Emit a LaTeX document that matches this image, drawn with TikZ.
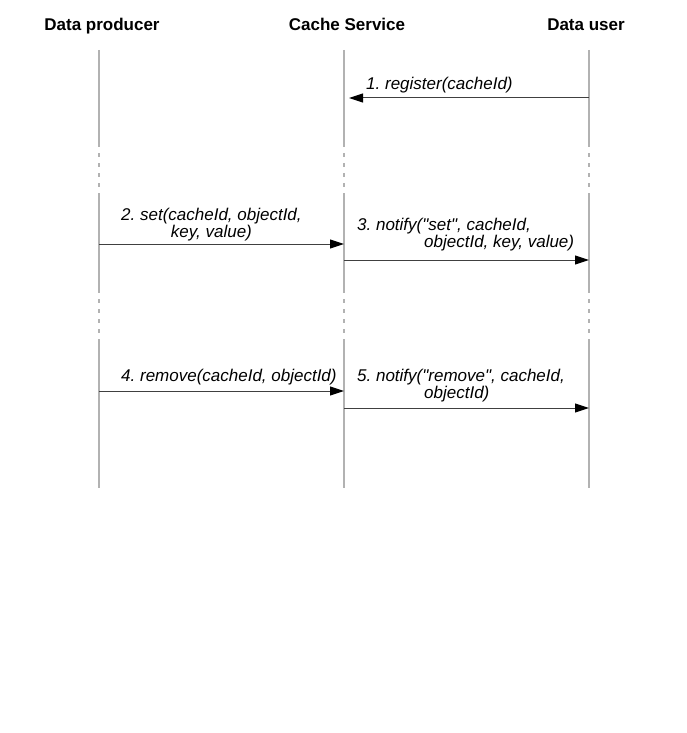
\documentclass[tikz,border=0pt]{standalone}
\usepackage{fontspec}
\setmainfont{Liberation Sans}
\usetikzlibrary{arrows.meta}
\frenchspacing
\begin{document}
\begin{tikzpicture}[x=1pt,y=-1pt,line join=round,>={Triangle[length=14pt,width=9pt,black]},
	life/.style={draw=black!30,line width=1.6pt},
	gap/.style={life,dash pattern=on 4pt off 6pt},
	msg/.style={->,draw=black!75,line width=1pt},
	lbl/.style={font=\fontsize{17}{17}\selectfont\itshape,inner sep=0pt,anchor=base west},
	head/.style={font=\fontsize{17}{17}\selectfont\bfseries,inner sep=0pt,anchor=base}]
	\useasboundingbox (0,0) rectangle (687,733);
	\foreach \n/\x/\hx/\t in {prod/99/102/Data producer,cache/344/347/Cache Service,user/589/586/Data user}{
		\node[head] (\n-h) at (\hx,31) {\t};
		\coordinate (\n) at (\x,0);
		\draw[life] (\x,50)--(\x,147) (\x,193)--(\x,293) (\x,339)--(\x,488);
		\draw[gap] (\x,153)--(\x,190) (\x,299)--(\x,336);
	}
	\node[lbl] (m1) at (366,90) {1. register(cacheId)};
	\node[lbl,align=center] (m2) at (121,237) {2. set(cacheId, objectId,\\key, value)};
	\node[lbl,align=left] (m3) at (357,247) {3. notify(\textquotedbl set\textquotedbl, cacheId,\\\hspace*{67pt}objectId, key, value)};
	\node[lbl] (m4) at (121,381) {4. remove(cacheId, objectId)};
	\node[lbl,align=left] (m5) at (357,398) {5. notify(\textquotedbl remove\textquotedbl, cacheId,\\\hspace*{67pt}objectId)};
	\draw[msg] (user |- 0,98) -- ([xshift=5pt]cache |- 0,98);
	\draw[msg] (prod |- 0,244) -- (cache |- 0,244);
	\draw[msg] (cache |- 0,260) -- (user |- 0,260);
	\draw[msg] (prod |- 0,391) -- (cache |- 0,391);
	\draw[msg] (cache |- 0,408) -- (user |- 0,408);
\end{tikzpicture}
\end{document}
